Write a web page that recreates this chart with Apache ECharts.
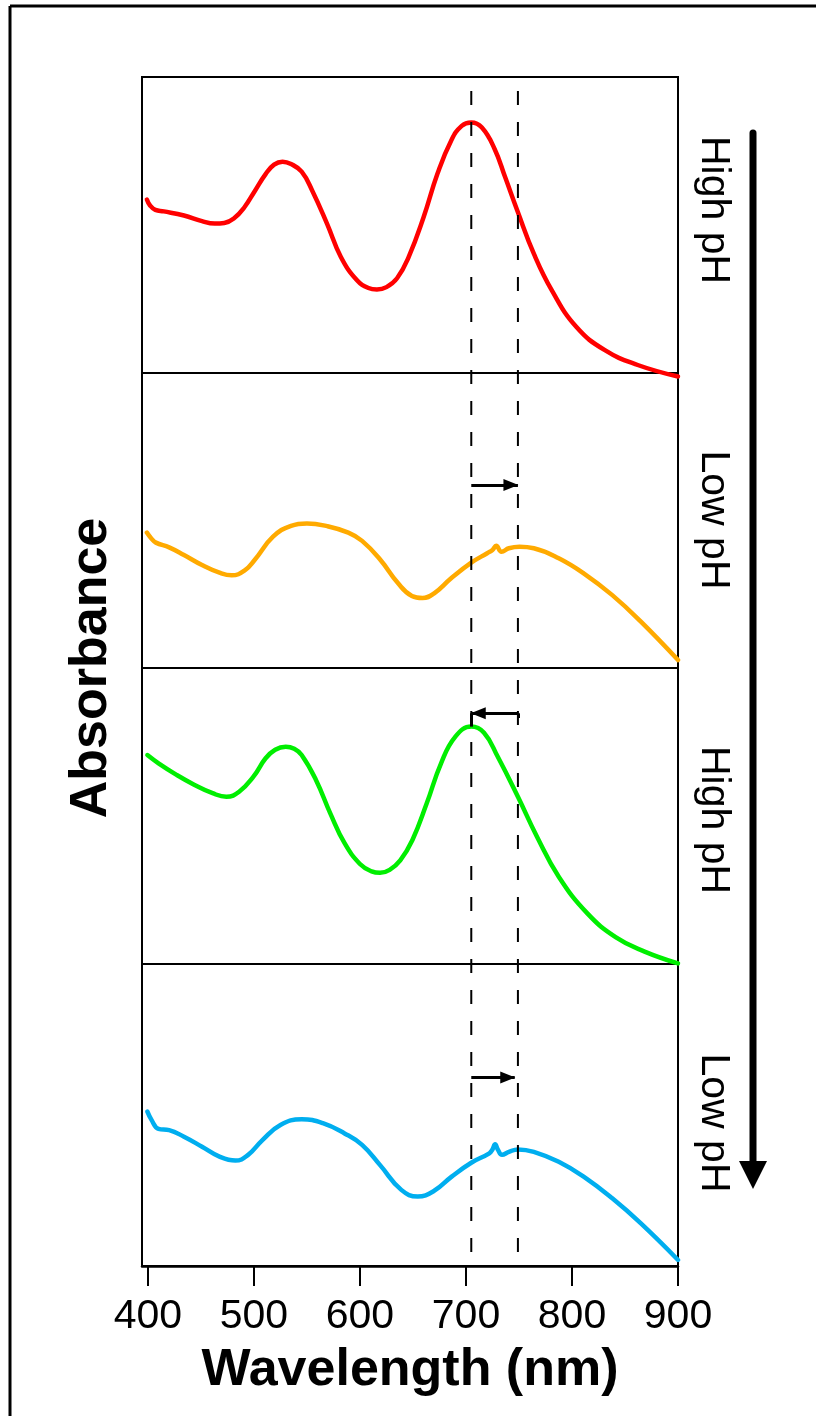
<!DOCTYPE html>
<html>
<head>
<meta charset="utf-8">
<title>Absorbance vs wavelength</title>
<script src="https://cdn.jsdelivr.net/npm/echarts@6.0.0/dist/echarts.min.js"></script>
<style>
    html, body { margin: 0; padding: 0; background: #fff; }
    #chart { width: 816px; height: 1416px; }
</style>
</head>
<body>
<div id="chart"></div>
<script>
/* ========== data ========== */

// [wavelength nm, absorbance (a.u., each panel 0..1)]
const spectrumHigh1 = [
    [399, 0.586], [402, 0.566], [407, 0.551], [415, 0.546], [434, 0.532], [451, 0.513], [463, 0.505],
    [472, 0.507], [481, 0.522], [491, 0.560], [501, 0.616], [511, 0.672], [519, 0.704], [527, 0.714],
    [535, 0.706], [545, 0.680], [555, 0.616], [569, 0.504], [582, 0.392], [597, 0.314], [608, 0.287],
    [616, 0.282], [625, 0.290], [635, 0.320], [646, 0.392], [660, 0.526], [673, 0.672], [686, 0.785],
    [696, 0.835], [705, 0.846], [715, 0.829], [727, 0.757], [737, 0.661], [749, 0.543], [764, 0.403],
    [781, 0.279], [804, 0.156], [831, 0.077], [862, 0.027], [900, -0.012]
];
const spectrumLow1 = [
    [399, 0.459], [403, 0.440], [407.5, 0.425], [420, 0.409], [434, 0.383], [451, 0.349], [467.5, 0.323],
    [479, 0.314], [491, 0.330], [501, 0.368], [518, 0.445], [535, 0.482], [550, 0.490], [569, 0.481],
    [589, 0.459], [602, 0.431], [619, 0.368], [636, 0.287], [649, 0.244], [659, 0.237], [670, 0.253],
    [686, 0.304], [705, 0.357], [720, 0.389], [725, 0.400], [728.5, 0.414], [733.5, 0.394], [740.5, 0.406],
    [750.5, 0.411], [764, 0.406], [787.5, 0.372], [811, 0.321], [838, 0.247], [865, 0.157], [900, 0.027]
];
const spectrumHigh2 = [
    [399.5, 0.706], [410, 0.678], [427, 0.639], [444, 0.605], [461, 0.577], [474, 0.565], [486, 0.582],
    [499.5, 0.633], [511, 0.695], [520, 0.724], [530, 0.734], [538, 0.727], [545, 0.706],
    [558.5, 0.622], [572, 0.509], [585.5, 0.408], [600, 0.338], [611, 0.313], [619, 0.308], [628, 0.318],
    [638, 0.350], [649.5, 0.419], [663, 0.543], [676.5, 0.678], [690, 0.768], [705, 0.802], [717, 0.781],
    [730, 0.700], [749, 0.565], [767, 0.430], [787.5, 0.295], [814.5, 0.171], [841.5, 0.090], [868.5, 0.042],
    [900, 0.002]
];
const spectrumLow2 = [
    [399.5, 0.511], [403.5, 0.483], [410, 0.454], [420, 0.450], [434, 0.428], [451, 0.395], [467.5, 0.362],
    [482.5, 0.349], [494.5, 0.368], [508, 0.417], [525, 0.467], [545, 0.486], [565, 0.473], [585.5, 0.439],
    [602, 0.401], [619, 0.334], [639, 0.252], [654.5, 0.230], [670, 0.249], [686.5, 0.296], [705, 0.342],
    [722, 0.373], [725, 0.386], [727.5, 0.403], [730, 0.386], [734, 0.368], [740.5, 0.378], [749, 0.386],
    [764, 0.378], [787.5, 0.345], [811, 0.296], [838, 0.224], [865, 0.141], [900, 0.020]
];

const phLabels = ["High pH", "Low pH", "High pH", "Low pH"];
const xTicks = [400, 500, 600, 700, 800, 900];
const peakLines = [705, 749];          // dashed reference wavelengths
// shift arrows: [from nm, to nm, height in panel]
const shiftLow1 = [705, 749, 0.62];
const shiftHigh2 = [749, 705, 0.847];
const shiftLow2 = [705, 746, 0.624];

/* ========== layout ========== */

const FONT = "'Liberation Sans', Arial, sans-serif";
const X_MIN = 394.4, X_MAX = 900;
const panelTops = [77, 373, 668, 964];
const panelBottoms = [373, 668, 964, 1266];
const colors = ["#FF0000", "#FFAA00", "#00EE00", "#00AEEF"];
const spectra = [spectrumHigh1, spectrumLow1, spectrumHigh2, spectrumLow2];
const labelY = [210, 520, 820, 1123];

function arrowMark(shift, extra) {
    const [from, to, h] = shift;
    // symbolSize on the item itself: a parent-level array would be read as one size
    const data = [[{ coord: [from, h] }, { coord: [to, h], symbolSize: [12, 15] }]];
    (extra || []).forEach(seg => data.push([
        { coord: seg[0], symbol: "none" },
        { coord: seg[1], symbol: "none" }
    ]));
    return {
        silent: true,
        symbol: ["none", "triangle"],
        symbolSize: 12,
        symbolOffset: [[0, 0], [0, 7]],
        label: { show: false },
        emphasis: { disabled: true },
        lineStyle: { color: "#000", width: 3, type: "solid" },
        data: data
    };
}

const grids = [], xAxes = [], yAxes = [], series = [];

panelTops.forEach((top, i) => {
    grids.push({
        left: 142, right: 138, top: top, height: panelBottoms[i] - top,
        show: true, borderColor: "#000", borderWidth: 2, backgroundColor: "transparent"
    });
    const last = i === panelTops.length - 1;
    xAxes.push({
        type: "value", gridIndex: i, min: X_MIN, max: X_MAX,
        axisLine: { show: last, lineStyle: { color: "#000", width: 2.5 } },
        axisTick: {
            show: last, customValues: xTicks, length: 20, inside: false,
            lineStyle: { color: "#000", width: 2 }
        },
        axisLabel: {
            show: last, customValues: xTicks, fontSize: 41, color: "#000",
            margin: 30, fontFamily: FONT
        },
        splitLine: { show: false },
        name: last ? "Wavelength (nm)" : "",
        nameLocation: "middle",
        nameGap: 79,
        nameTextStyle: { fontSize: 52, fontWeight: "bold", color: "#000", fontFamily: FONT }
    });
    yAxes.push({ type: "value", gridIndex: i, min: 0, max: 1, show: false });
});

// overlay grid for the dashed reference lines
grids.push({ left: 142, right: 138, top: 77, height: 1189 });
xAxes.push({ type: "value", gridIndex: 4, min: X_MIN, max: X_MAX, show: false });
yAxes.push({ type: "value", gridIndex: 4, min: 0, max: 1, show: false });

spectra.forEach((d, i) => {
    const s = {
        type: "line", xAxisIndex: i, yAxisIndex: i, data: d,
        showSymbol: false, smooth: 0.45, clip: false, silent: true,
        lineStyle: { color: colors[i], width: 4.5, cap: "round", join: "round" },
        itemStyle: { color: colors[i] }
    };
    if (i === 1) s.markLine = arrowMark(shiftLow1);
    if (i === 2) s.markLine = arrowMark(shiftHigh2, [
        [[705, 0.847], [705, 0.802]],
        [[749, 0.847], [749, 0.831]]
    ]);
    if (i === 3) s.markLine = arrowMark(shiftLow2);
    series.push(s);
});

peakLines.forEach(x => {
    series.push({
        type: "line", xAxisIndex: 4, yAxisIndex: 4,
        data: [[x, 1], [x, 0]],
        showSymbol: false, silent: true,
        lineStyle: { color: "#000", width: 2, type: [14, 17], dashOffset: 17 }
    });
});

/* ========== decorations ========== */

const graphics = [
    // outer frame (top + left)
    { type: "line", shape: { x1: 10, y1: 6, x2: 816, y2: 6 }, style: { stroke: "#000", lineWidth: 3 } },
    { type: "line", shape: { x1: 10, y1: 6, x2: 10, y2: 1416 }, style: { stroke: "#000", lineWidth: 3 } },
    // big pH arrow
    { type: "line", shape: { x1: 753, y1: 133, x2: 753, y2: 1164 }, style: { stroke: "#000", lineWidth: 7, lineCap: "round" } },
    { type: "polygon", shape: { points: [[739, 1161], [767, 1161], [753, 1189]] }, style: { fill: "#000" } },
    {
        type: "text", x: 92, y: 668, rotation: Math.PI / 2,
        style: {
            text: "Absorbance", fontSize: 52, fontWeight: "bold", fontFamily: FONT,
            fill: "#000", align: "center", verticalAlign: "middle"
        }
    }
];

phLabels.forEach((t, i) => {
    graphics.push({
        type: "text", x: 713, y: labelY[i], rotation: -Math.PI / 2,
        style: {
            text: t, fontSize: 41, fontFamily: FONT, fill: "#000",
            align: "center", verticalAlign: "middle"
        }
    });
});

const chart = echarts.init(document.getElementById("chart"), null, { renderer: "canvas" });
chart.setOption({
    animation: false,
    backgroundColor: "#fff",
    grid: grids,
    xAxis: xAxes,
    yAxis: yAxes,
    series: series,
    graphic: graphics
});
</script>
</body>
</html>
